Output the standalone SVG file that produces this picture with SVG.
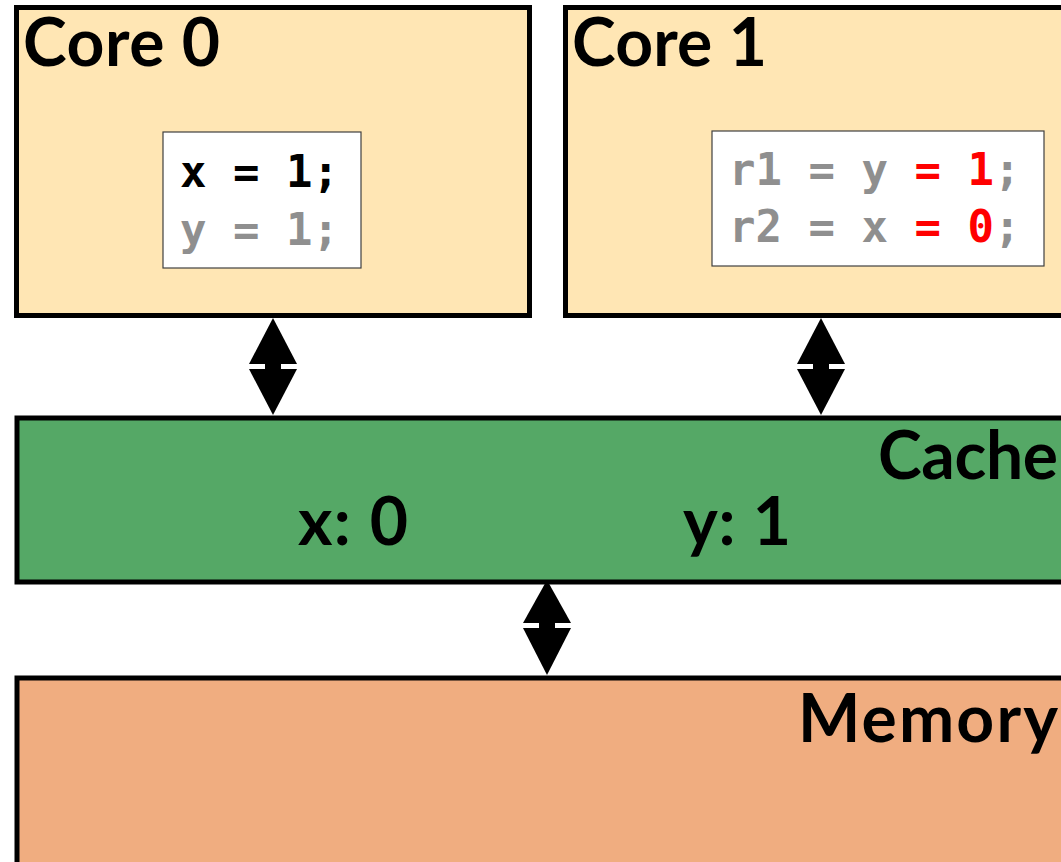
<svg xmlns="http://www.w3.org/2000/svg" width="1061" height="862" viewBox="0 0 1061 862">
  <style>
    .box { stroke: #000; stroke-width: 5; }
    .core { fill: #FFE6B4; }
    .cache { fill: #55A866; }
    .mem { fill: #F0AD80; }
    .code-box { fill: #FFF; stroke: #404040; stroke-width: 1.2; }
    .title { font-family: Lato, "Open Sans", sans-serif; font-weight: 700; font-size: 66px; fill: #000; }
    .code { font-family: "DejaVu Sans Mono", "Liberation Mono", monospace; font-weight: 700; font-size: 44px; white-space: pre; }
    .dim { fill: #8F8F8F; }
    .hot { fill: #FF0000; }
    .arrow { fill: #000; }
  </style>
  <rect width="1061" height="862" fill="#FFF"/>

  <g id="core0">
    <rect class="box core" x="16.5" y="7.5" width="513" height="308"/>
    <text class="title" x="23" y="66" textLength="197">Core 0</text>
    <rect class="code-box" x="163" y="132" width="198" height="136"/>
    <text class="code" x="180" y="187" fill="#000">x = 1;</text>
    <text class="code dim" x="180" y="245">y = 1;</text>
  </g>

  <g id="core1">
    <rect class="box core" x="565.5" y="7.5" width="520" height="308"/>
    <text class="title" x="572" y="66" textLength="195">Core 1</text>
    <rect class="code-box" x="712" y="131" width="332" height="135"/>
    <text class="code" x="729" y="185"><tspan class="dim">r1 = y </tspan><tspan class="hot">= 1</tspan><tspan class="dim">;</tspan></text>
    <text class="code" x="729" y="242"><tspan class="dim">r2 = x </tspan><tspan class="hot">= 0</tspan><tspan class="dim">;</tspan></text>
  </g>

  <g id="cache">
    <rect class="box cache" x="17" y="418" width="1070" height="164"/>
    <text class="title" x="878" y="479" textLength="180">Cache</text>
    <text class="title" x="298" y="545" textLength="110">x: 0</text>
    <text class="title" x="683" y="545" textLength="108">y: 1</text>
  </g>

  <g id="memory">
    <rect class="box mem" x="17" y="678" width="1070" height="200"/>
    <text class="title" x="798" y="742" textLength="260">Memory</text>
  </g>

  <g id="connectors">
    <!-- core 0 <-> cache -->
    <g class="arrow">
      <polygon points="273,318 297,364 249,364"/>
      <rect x="265" y="362" width="16" height="10"/>
      <polygon points="249,369 297,369 273,415"/>
    </g>
    <!-- core 1 <-> cache -->
    <g class="arrow">
      <polygon points="821,318 845,364 797,364"/>
      <rect x="813" y="362" width="16" height="10"/>
      <polygon points="797,369 845,369 821,415"/>
    </g>
    <!-- cache <-> memory -->
    <g class="arrow">
      <polygon points="547,580 571,623 523,623"/>
      <rect x="539" y="621" width="16" height="10"/>
      <polygon points="523,628 571,628 547,675"/>
    </g>
  </g>
</svg>
